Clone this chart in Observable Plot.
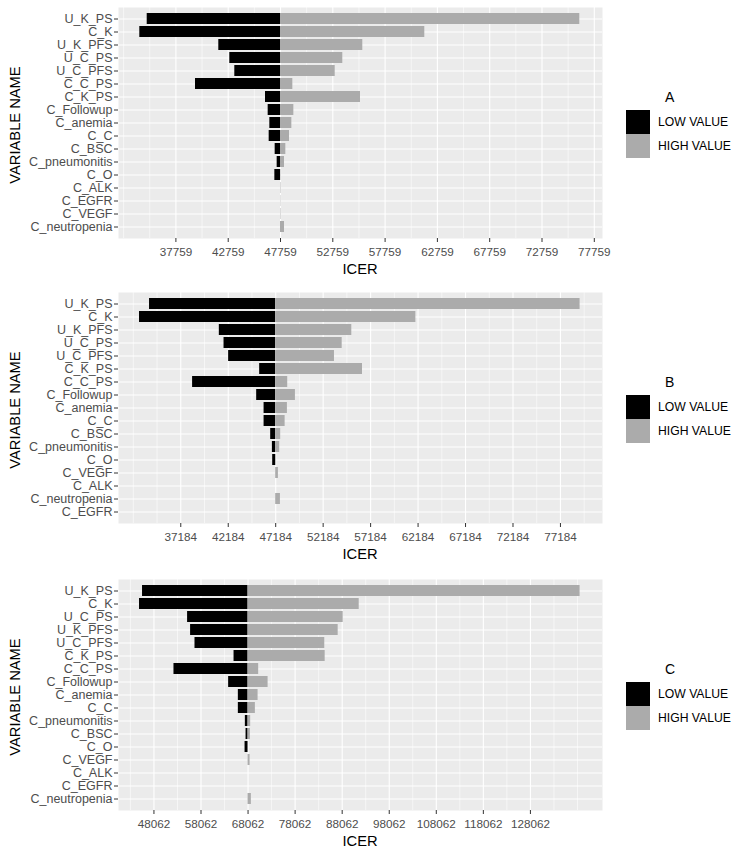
<!DOCTYPE html>
<html>
<head>
<meta charset="utf-8">
<script src="https://cdn.jsdelivr.net/npm/d3@7"></script>
<script src="https://cdn.jsdelivr.net/npm/@observablehq/plot@0.6"></script>
<style>
  html, body { margin: 0; padding: 0; background: #ffffff; }
  #root { position: relative; width: 750px; height: 857px; font-family: "Liberation Sans", Arial, sans-serif; }
  .xt { position: absolute; font-size: 14.7px; color: #000; transform: translate(-50%, -50%); white-space: nowrap; }
  .yt { position: absolute; font-size: 14.7px; color: #000; transform: translate(-50%, -50%) rotate(-90deg); white-space: nowrap; }
  .lt { position: absolute; font-size: 14px; color: #000; transform: translateY(-50%); }
  .lk { position: absolute; width: 24px; height: 24px; }
  .ll { position: absolute; font-size: 12.2px; color: #000; transform: translateY(-50%); white-space: nowrap; }
</style>
</head>
<body>
<div id="root"></div>
<script>
// ---- Panel A ----
const varsA = ["U_K_PS","C_K","U_K_PFS","U_C_PS","U_C_PFS","C_C_PS","C_K_PS","C_Followup","C_anemia","C_C","C_BSC","C_pneumonitis","C_O","C_ALK","C_EGFR","C_VEGF","C_neutropenia"];
const lowA  = [35015, 34308, 41860, 42912, 43390, 39633, 46325, 46580, 46739, 46676, 47249, 47440, 47218, 47759, 47759, 47759, 47759];
const highA = [76373, 61554, 55627, 53715, 52988, 48938, 55407, 49034, 48842, 48619, 48269, 48141, 47800, 47800, 47790, 47800, 48141];
const baseA = 47759;
const ticksA = [37759, 42759, 47759, 52759, 57759, 62759, 67759, 72759, 77759];
const domainA = [32271, 78543];

// ---- Panel B ----
const varsB = ["U_K_PS","C_K","U_K_PFS","U_C_PS","U_C_PFS","C_K_PS","C_C_PS","C_Followup","C_anemia","C_C","C_BSC","C_pneumonitis","C_O","C_VEGF","C_ALK","C_neutropenia","C_EGFR"];
const lowB  = [33893, 32838, 41245, 41741, 42226, 45496, 38429, 45180, 45960, 45960, 46657, 46836, 46868, 47184, 47184, 47184, 47184];
const highB = [79252, 61952, 55201, 54188, 53376, 56330, 48450, 49262, 48418, 48176, 47711, 47606, 47220, 47469, 47184, 47680, 47184];
const baseB = 47184;
const ticksB = [37184, 42184, 47184, 52184, 57184, 62184, 67184, 72184, 77184];
const domainB = [30623, 81614];

// ---- Panel C ----
const varsC = ["U_K_PS","C_K","U_C_PS","U_K_PFS","U_C_PFS","C_K_PS","C_C_PS","C_Followup","C_anemia","C_C","C_pneumonitis","C_BSC","C_O","C_VEGF","C_ALK","C_EGFR","C_neutropenia"];
const lowC  = [45636, 44998, 55211, 55849, 56785, 65083, 52317, 63934, 65998, 65998, 67488, 67636, 67424, 68062, 68062, 68062, 68062];
const highC = [138615, 91679, 88275, 87211, 84360, 84445, 70317, 72317, 70190, 69615, 68615, 68551, 68100, 68488, 68062, 68062, 68764];
const baseC = 68062;
const ticksC = [48062, 58062, 68062, 78062, 88062, 98062, 108062, 118062, 128062];
const domainC = [40530, 143381];

const panelLabels = ["A", "B", "C"];
const legendLabels = ["LOW VALUE", "HIGH VALUE"];
const legendColors = ["#000000", "#ababab"];
const xTitle = "ICER";
const yTitle = "VARIABLE NAME";

function minorBreaks(ticks, domain) {
  const d = ticks[1] - ticks[0];
  const b = [ticks[0] - d, ...ticks, ticks[ticks.length - 1] + d];
  const out = [];
  for (let i = 0; i < b.length; i++) {
    out.push(b[i]);
    if (i < b.length - 1) out.push((b[i] + b[i + 1]) / 2);
  }
  return out.filter(v => v >= domain[0] && v <= domain[1] && !ticks.includes(v));
}

function makePanel(vars, low, high, base, ticks, domain) {
  const rows = vars.map((v, i) => ({v, low: low[i], high: high[i]}));
  return Plot.plot({
    width: 610,
    height: 286,
    marginLeft: 118,
    marginRight: 8,
    marginTop: 7,
    marginBottom: 48,
    style: {fontFamily: "Liberation Sans, Arial, sans-serif", color: "#4d4d4d", background: "transparent", overflow: "visible"},
    x: {domain, ticks, label: null},
    y: {domain: vars, paddingInner: 0.15, paddingOuter: 0.125, label: null},
    marks: [
      Plot.frame({fill: "#ebebeb", stroke: null}),
      Plot.gridX(minorBreaks(ticks, domain), {stroke: "#ffffff", strokeOpacity: 1, strokeWidth: 0.55}),
      Plot.gridX(ticks, {stroke: "#ffffff", strokeOpacity: 1, strokeWidth: 1.1}),
      Plot.gridY({stroke: "#ffffff", strokeOpacity: 1, strokeWidth: 1.1}),
      Plot.barX(rows, {y: "v", x1: "low", x2: () => base, fill: legendColors[0]}),
      Plot.barX(rows, {y: "v", x1: () => base, x2: "high", fill: legendColors[1]}),
      Plot.axisX(ticks, {tickSize: 4, tickPadding: 5, fontSize: 11.7, tickFormat: d => String(d), stroke: "#333333", fill: "#4d4d4d", label: null}),
      Plot.axisY({tickSize: 4, tickPadding: 2, fontSize: 12.5, stroke: "#333333", fill: "#4d4d4d", label: null})
    ]
  });
}

const root = document.getElementById("root");
const panels = [
  makePanel(varsA, lowA, highA, baseA, ticksA, domainA),
  makePanel(varsB, lowB, highB, baseB, ticksB, domainB),
  makePanel(varsC, lowC, highC, baseC, ticksC, domainC)
];
const tops = [0, 285, 572];

panels.forEach((svg, i) => {
  const top = tops[i];
  svg.style.position = "absolute";
  svg.style.left = "0px";
  svg.style.top = top + "px";
  root.appendChild(svg);
  const panelCenter = top + 7 + 231 / 2;

  const xt = document.createElement("div");
  xt.className = "xt"; xt.textContent = xTitle;
  xt.style.left = "360px"; xt.style.top = (top + 269) + "px";
  root.appendChild(xt);

  const yt = document.createElement("div");
  yt.className = "yt"; yt.textContent = yTitle;
  yt.style.left = "15px"; yt.style.top = (panelCenter + 2) + "px";
  root.appendChild(yt);

  const lt = document.createElement("div");
  lt.className = "lt"; lt.textContent = panelLabels[i];
  lt.style.left = "665px"; lt.style.top = (panelCenter - 25.5) + "px";
  root.appendChild(lt);

  legendLabels.forEach((lab, j) => {
    const k = document.createElement("div");
    k.className = "lk"; k.style.background = legendColors[j];
    k.style.left = "626px"; k.style.top = (panelCenter - 12.5 + 24 * j) + "px";
    root.appendChild(k);
    const l = document.createElement("div");
    l.className = "ll"; l.textContent = lab;
    l.style.left = "658px"; l.style.top = (panelCenter - 0.5 + 24 * j) + "px";
    root.appendChild(l);
  });
});
</script>
</body>
</html>
